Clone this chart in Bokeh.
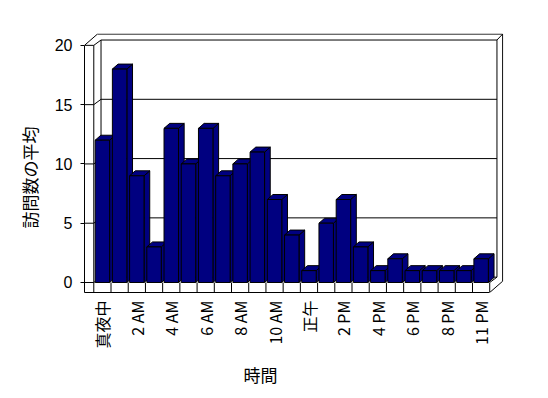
import math
from bokeh.plotting import figure
from bokeh.models import ColumnDataSource, FixedTicker, Range1d, Title
from bokeh.embed import file_html
from bokeh.resources import INLINE

# ---- data ----
hours = ["真夜中", "1 AM", "2 AM", "3 AM", "4 AM", "5 AM", "6 AM", "7 AM", "8 AM",
         "9 AM", "10 AM", "11 AM", "正午", "1 PM", "2 PM", "3 PM", "4 PM", "5 PM",
         "6 PM", "7 PM", "8 PM", "9 PM", "11 PM"]
visits = [12, 18, 9, 3, 13, 10, 13, 9, 10, 11, 7, 4, 1, 5, 7, 3, 1, 2, 1, 1, 1, 1, 2]
y_ticks = [0, 5, 10, 15, 20]
x_title = "時間"
y_title = "訪問数の平均"

# ---- geometry (3D box look) ----
N = len(hours)
BAR_L, BAR_R = 0.08, 0.92      # bar front face inside slot
BDX, BDY = 0.33, 0.42          # bar depth offset
XL, YB, YT = -0.54, -0.844, y_ticks[-1]
DX1, DY1 = 0.42, 0.45          # depth to back wall
DX2, DY2 = 0.33, 0.50          # wall thickness
NAVY = "#000080"

p = figure(width=548, height=398, output_backend="svg", toolbar_location=None,
           x_range=Range1d(XL, N + DX1 + DX2 + 0.05),
           y_range=Range1d(YB, YT + DY1 + DY2 + 0.05),
           min_border_left=84, min_border_right=45, min_border_top=33,
           min_border_bottom=106, background_fill_color="white",
           border_fill_color="white")
p.outline_line_color = None
p.xgrid.visible = False
p.ygrid.visible = False

# ---- box lines ----
x0s, y0s, x1s, y1s = [], [], [], []
def seg(a, b, c, d):
    x0s.append(a); y0s.append(b); x1s.append(c); y1s.append(d)

for v in y_ticks[:-1]:
    seg(XL, v, 0, v)
    seg(0, v, DX1, v + DY1)
    seg(DX1, v + DY1, N + DX1, v + DY1)
# top outline
seg(XL, YT, 0, YT)
seg(0, YT, DX1, YT + DY1)
seg(DX1, YT + DY1, N + DX1, YT + DY1)
seg(XL, YT, XL + DX1 + DX2, YT + DY1 + DY2)
seg(XL + DX1 + DX2, YT + DY1 + DY2, N + DX1 + DX2, YT + DY1 + DY2)
seg(N + DX1, YT + DY1, N + DX1 + DX2, YT + DY1 + DY2)
# verticals
seg(0, 0, 0, YT)
seg(DX1, DY1, DX1, YT + DY1)
seg(N + DX1, DY1, N + DX1, YT + DY1)
seg(N + DX1 + DX2, YB + DY1 + DY2, N + DX1 + DX2, YT + DY1 + DY2)
# floor
for i in range(N + 1):
    seg(i, YB, i, 0)
seg(N, 0, N + DX1, DY1)
seg(N, YB, N + DX1 + DX2, YB + DY1 + DY2)
p.segment(x0s, y0s, x1s, y1s, line_color="black", line_width=1)

# ---- bars ----
xs, ys = [], []
for i, v in enumerate(visits):
    l, r = i + BAR_L, i + BAR_R
    xs.append([r, r + BDX, r + BDX, r]); ys.append([0, BDY, v + BDY, v])
    xs.append([l, r, r + BDX, l + BDX]); ys.append([v, v, v + BDY, v + BDY])
p.patches(xs, ys, fill_color=NAVY, line_color="black", line_width=1)

src = ColumnDataSource(dict(
    left=[i + BAR_L for i in range(N)], right=[i + BAR_R for i in range(N)],
    bottom=[0] * N, top=visits))
p.quad(left="left", right="right", bottom="bottom", top="top", source=src,
       fill_color=NAVY, line_color="black", line_width=1)

# ---- axes ----
ya = p.yaxis[0]
ya.ticker = FixedTicker(ticks=y_ticks)
ya.bounds = (YB, YT)
ya.major_tick_out = 4
ya.major_tick_in = 0
ya.minor_tick_out = 0
ya.minor_tick_in = 0
ya.major_label_standoff = 8
ya.major_label_text_font = "Liberation Sans"
ya.major_label_text_font_size = "16px"
ya.major_label_text_color = "black"
ya.axis_line_color = "black"
ya.major_tick_line_color = "black"

xa = p.xaxis[0]
tick_pos = [i + 0.5 for i in range(0, N, 2)]
xa.ticker = FixedTicker(ticks=tick_pos)
xa.major_label_overrides = {float(i + 0.5): hours[i] for i in range(0, N, 2)}
xa.bounds = (XL, N)
xa.major_tick_out = 0
xa.major_tick_in = 0
xa.minor_tick_out = 0
xa.minor_tick_in = 0
xa.major_label_standoff = 8
xa.major_label_orientation = math.pi / 2
xa.major_label_text_font = "Noto Sans CJK JP"
xa.major_label_text_font_size = "16px"
xa.major_label_text_color = "black"
xa.axis_line_color = "black"

# ---- titles ----
p.add_layout(Title(text=y_title, align="left", offset=64, standoff=20,
                   vertical_align="bottom", text_font="Noto Sans CJK JP",
                   text_font_size="17px", text_font_style="normal",
                   text_color="black"), "left")
p.add_layout(Title(text=x_title, align="left", offset=159, standoff=16,
                   vertical_align="bottom", text_font="Noto Sans CJK JP",
                   text_font_size="17px", text_font_style="normal",
                   text_color="black"), "below")

open("out.html", "w").write(file_html(p, INLINE))
